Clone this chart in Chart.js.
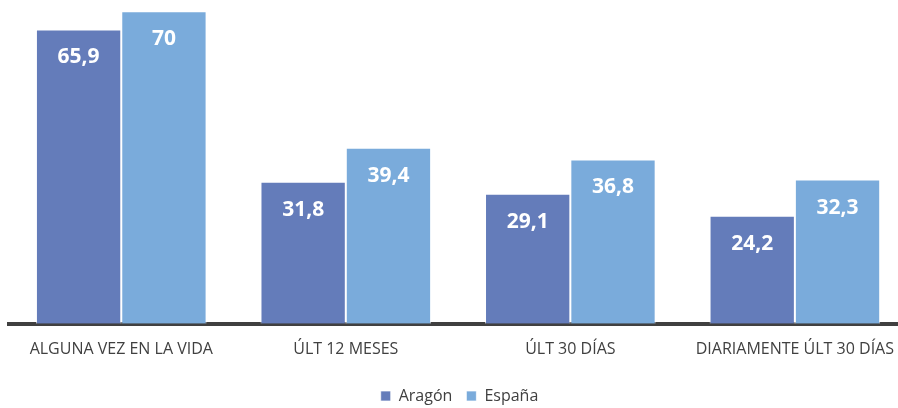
<!DOCTYPE html>
<html>
<head>
<meta charset="utf-8">
<script src="https://cdn.jsdelivr.net/npm/chart.js@4.4.1/dist/chart.umd.min.js"></script>
<style>
  html, body { margin: 0; padding: 0; background: #fff; overflow: hidden; }
  #wrap { width: 910px; height: 408px; }
</style>
</head>
<body>
<div id="wrap"><canvas id="myBarChart" width="910" height="408"></canvas></div>
<script>
const categories = ['ALGUNA VEZ EN LA VIDA', 'ÚLT 12 MESES', 'ÚLT 30 DÍAS', 'DIARIAMENTE ÚLT 30 DÍAS'];
const aragon = [65.9, 31.8, 29.1, 24.2];
const espana = [70, 39.4, 36.8, 32.3];

// Etiquetes blanques dins de cada barra
const barLabels = {
    id: 'barLabels',
    afterDatasetsDraw(chart) {
        const ctx = chart.ctx;
        ctx.save();
        ctx.fillStyle = '#ffffff';
        ctx.font = 'bold 21px "Open Sans"';
        ctx.textAlign = 'center';
        ctx.textBaseline = 'middle';
        chart.data.datasets.forEach((ds, i) => {
            chart.getDatasetMeta(i).data.forEach((bar, j) => {
                let txt = ds.data[j].toLocaleString('es-ES');
                ctx.fillText(txt, bar.x, bar.y + 28);
            });
        });
        ctx.restore();
    }
};

let ctx = document.getElementById('myBarChart').getContext('2d');
let myBarChart = new Chart(ctx, {
    type: 'bar',
    data: {
        labels: categories,
        datasets: [
            {
                label: 'Aragón',
                data: aragon,
                backgroundColor: '#647cba',
                borderColor: 'rgba(255,255,255,0.7)',
                borderWidth: 1,
                borderSkipped: 'bottom'
            },
            {
                label: 'España',
                data: espana,
                backgroundColor: '#7aabdb',
                borderColor: 'rgba(255,255,255,0.7)',
                borderWidth: 1,
                borderSkipped: 'bottom'
            }
        ]
    },
    options: {
        responsive: false,
        animation: false,
        layout: { padding: { left: 9, right: 0, top: 0, bottom: -6 } },
        datasets: {
            bar: { barPercentage: 1, categoryPercentage: 0.76 }
        },
        plugins: {
            tooltip: { enabled: false },
            legend: {
                position: 'bottom',
                labels: {
                    boxWidth: 10,
                    boxHeight: 10,
                    padding: 14,
                    color: '#404040',
                    font: { family: '"Open Sans"', size: 16 }
                }
            }
        },
        scales: {
            x: {
                grid: { display: false, drawTicks: false },
                border: { display: true, color: '#404040', width: 4 },
                afterFit: function (scale) {
                    scale.height += -1;
                },
                ticks: {
                    color: '#404040',
                    padding: 16,
                    maxRotation: 0,
                    autoSkip: false,
                    font: { family: '"Open Sans"', size: 16 }
                }
            },
            y: {
                display: false,
                min: 0,
                max: 72.5
            }
        }
    },
    plugins: [barLabels]
});
</script>
</body>
</html>
